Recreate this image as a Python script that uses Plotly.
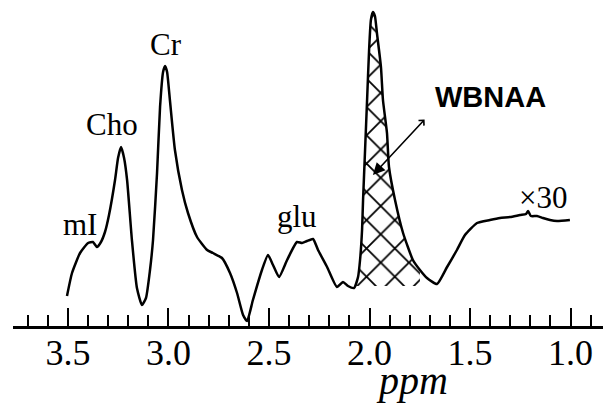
import plotly.graph_objects as go

# Spectrum: chemical shift (ppm) and relative intensity
ppm = [3.505, 3.480, 3.440, 3.400, 3.376, 3.356, 3.336, 3.316, 3.296, 3.266,
       3.251, 3.236, 3.221, 3.206, 3.182, 3.157, 3.132, 3.112, 3.092, 3.077,
       3.057, 3.042, 3.027, 3.017, 3.007, 2.993, 2.968, 2.933, 2.903, 2.858,
       2.808, 2.779, 2.734, 2.694, 2.659, 2.629, 2.609, 2.580, 2.535, 2.505,
       2.480, 2.450, 2.410, 2.361, 2.336, 2.311, 2.281, 2.256, 2.211, 2.162,
       2.132, 2.107, 2.077, 2.057, 2.047, 2.037, 2.032, 2.022, 2.012, 2.002,
       1.993, 1.983, 1.973, 1.963, 1.943, 1.933, 1.913, 1.903, 1.873, 1.833,
       1.784, 1.749, 1.714, 1.664, 1.614, 1.565, 1.525, 1.465, 1.401, 1.351,
       1.301, 1.251, 1.221, 1.211, 1.197, 1.167, 1.137, 1.102, 1.067, 1.003]
intensity = [30, 53, 73, 83, 84, 79, 84, 94, 111, 146,
             168, 179, 168, 146, 86, 38, 21, 28, 56, 86,
             153, 219, 254, 260, 254, 226, 176, 136, 113, 89,
             76, 73, 68, 53, 33, 11, 5, 26, 56, 71,
             61, 49, 66, 84, 83, 85, 87, 76, 59, 39,
             44, 40, 38, 49, 66, 96, 126, 176, 226, 276,
             306, 314, 310, 293, 259, 226, 193, 159, 126, 93,
             66, 56, 48, 42, 59, 76, 91, 103, 106, 108,
             109, 111, 112, 115, 110, 110, 108, 106, 105, 106]

# Hatched NAA area: index range of the spectrum and its lower bound
naa_start, naa_end = 52, 71
naa_base = 40

tick_vals = [3.5, 3.0, 2.5, 2.0, 1.5, 1.0]
tick_text = ["3.5", "3.0", "2.5", "2.0", "1.5", "1.0"]

peak_labels = ["mI", "Cho", "Cr", "glu"]
peak_label_ppm = [3.440, 3.281, 3.012, 2.361]
peak_label_int = [102, 202, 282, 110]

seg_x = ppm[naa_start:naa_end + 1]
seg_y = intensity[naa_start:naa_end + 1]
fill_x = seg_x + [seg_x[-1], seg_x[0], seg_x[0]]
fill_y = seg_y + [naa_base, naa_base, seg_y[0]]

fig = go.Figure()
fig.add_trace(go.Scatter(
    x=fill_x, y=fill_y, mode="none", fill="toself",
    fillcolor="rgba(0,0,0,0)",
    fillpattern=dict(shape="x", size=20, solidity=0.17, fgcolor="black",
                     fgopacity=1, bgcolor="rgba(0,0,0,0)", fillmode="overlay"),
    hoverinfo="skip", showlegend=False))
fig.add_trace(go.Scatter(
    x=ppm, y=intensity, mode="lines",
    line=dict(color="black", width=2.5, shape="spline", smoothing=0.5),
    showlegend=False))

serif = "Liberation Serif, Times New Roman, serif"
for t, px, py in zip(peak_labels, peak_label_ppm, peak_label_int):
    fig.add_annotation(x=px, y=py, text=t, showarrow=False,
                       font=dict(family=serif, size=31, color="black"),
                       xanchor="center", yanchor="middle")

fig.add_annotation(x=1.137, y=129, text="×30", showarrow=False,
                   font=dict(family=serif, size=31, color="black"),
                   xanchor="center", yanchor="middle")
fig.add_annotation(x=1.400, y=229, text="<b>WBNAA</b>", showarrow=False,
                   font=dict(family="Liberation Sans, Arial, sans-serif", size=29, color="black"),
                   xanchor="center", yanchor="middle")
fig.add_annotation(x=1.983, y=151, ax=1.719, ay=208, axref="x", ayref="y",
                   text="", showarrow=True, arrowhead=2, arrowsize=1.5,
                   arrowwidth=1.6, arrowcolor="black",
                   arrowside="end+start", startarrowhead=4, startarrowsize=0.9)
fig.add_annotation(x=1.789, y=-0.17, yref="paper", text="<i>ppm</i>", showarrow=False,
                   font=dict(family=serif, size=40, color="black"),
                   xanchor="center", yanchor="middle")

fig.update_xaxes(range=[3.7736, 0.7985], tickvals=tick_vals, ticktext=tick_text,
                 ticks="inside", ticklen=18, tickwidth=2, tickcolor="black",
                 showline=True, linecolor="black", linewidth=3,
                 showgrid=False, zeroline=False, ticklabelstandoff=-7,
                 tickfont=dict(family=serif, size=36, color="black"),
                 minor=dict(dtick=0.1, tick0=0, ticks="inside", ticklen=11,
                            tickwidth=2, tickcolor="black", showgrid=False))
fig.update_yaxes(range=[0, 318], visible=False, showgrid=False, zeroline=False)
fig.update_layout(width=603, height=402, margin=dict(l=5, r=0, t=0, b=84),
                  plot_bgcolor="white", paper_bgcolor="white")
fig.write_html("out.html")
